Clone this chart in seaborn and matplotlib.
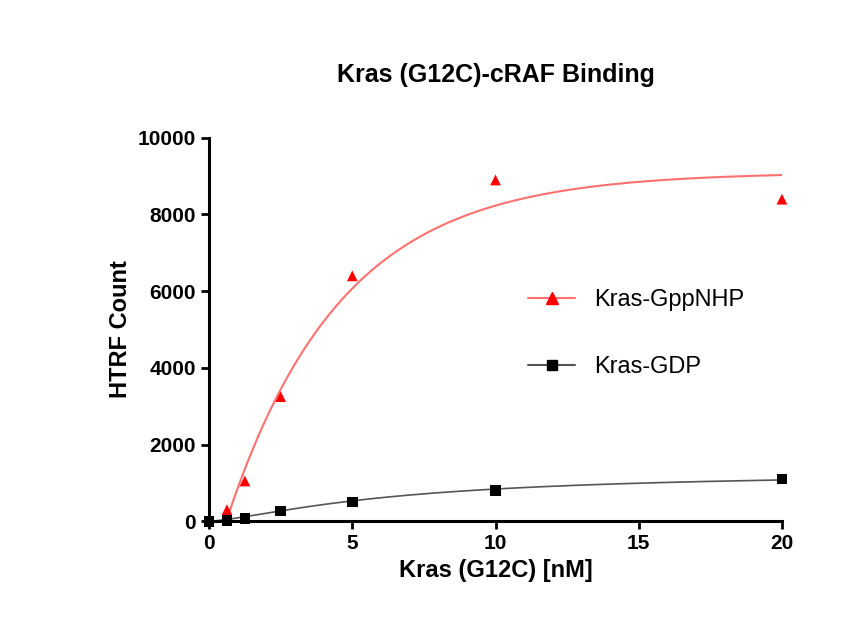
import numpy as np
import pandas as pd
import seaborn as sns
import matplotlib
matplotlib.use("Agg")
import matplotlib.pyplot as plt

conc = [0, 0.625, 1.25, 2.5, 5, 10, 20]
gppnhp = [0, 300, 1050, 3250, 6400, 8900, 8400]
gdp = [0, 20, 80, 270, 500, 800, 1100]

sns.set_style("ticks")
plt.rcParams['font.family'] = ['Liberation Sans', 'DejaVu Sans']
plt.rcParams['text.color'] = 'black'
plt.rcParams['xtick.color'] = 'black'
plt.rcParams['ytick.color'] = 'black'
plt.rcParams['axes.labelcolor'] = 'black'

fig, ax = plt.subplots(figsize=(8.64, 6.38), dpi=100)
fig.subplots_adjust(left=0.242, right=0.905, top=0.784, bottom=0.183)

def assoc(x, bmax, k, x0):
    return bmax * (1 - np.exp(-k * (x - x0)))

def hill(x, bmax, kd, h):
    return bmax * x**h / (kd**h + x**h)

xr = np.linspace(0.6, 20, 300)
xg = np.linspace(0, 20, 300)
ax.plot(xr, assoc(xr, 9100, 0.25, 0.6), color='#ff7070', lw=1.5)
ax.plot(xg, hill(xg, 1300, 6.5, 1.4), color='#555555', lw=1.2)

df = pd.DataFrame({'x': conc * 2, 'y': gppnhp + gdp,
                   's': ['Kras-GppNHP'] * 7 + ['Kras-GDP'] * 7})
sns.scatterplot(data=df, x='x', y='y', hue='s', style='s',
                markers={'Kras-GppNHP': '^', 'Kras-GDP': 's'},
                palette={'Kras-GppNHP': 'red', 'Kras-GDP': 'black'},
                s=60, edgecolor='none', ax=ax, legend=False, zorder=3, clip_on=False)

from matplotlib.lines import Line2D
h = [Line2D([], [], color='#ff7070', marker='^', mfc='red', mec='red', ms=8),
     Line2D([], [], color='#555555', marker='s', mfc='black', mec='black', ms=7)]
ax.legend(h, ['Kras-GppNHP', 'Kras-GDP'], frameon=False, fontsize=17,
          loc='center left', bbox_to_anchor=(0.52, 0.49), labelspacing=1.9)

ax.set_xlim(0, 20)
ax.set_ylim(0, 10000)
ax.set_xticks([0, 5, 10, 15, 20])
ax.set_yticks([0, 2000, 4000, 6000, 8000, 10000])
ax.tick_params(labelsize=15, width=2, length=6)
for t in ax.get_xticklabels() + ax.get_yticklabels():
    t.set_fontweight('bold')
for s in ['left', 'bottom']:
    ax.spines[s].set_linewidth(2.2)
    ax.spines[s].set_color('black')
sns.despine(ax=ax)
ax.set_xlabel('Kras (G12C) [nM]', fontsize=17, fontweight='bold')
ax.set_ylabel('HTRF Count', fontsize=17, fontweight='bold')
ax.set_title('Kras (G12C)-cRAF Binding', fontsize=18, fontweight='bold', pad=40)

fig.savefig('out.png')
